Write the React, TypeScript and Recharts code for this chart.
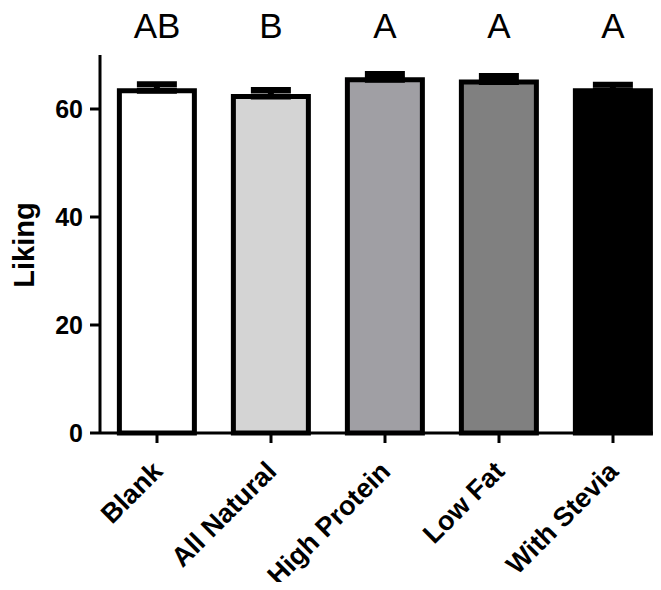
import React from 'react';
import { BarChart, Bar, XAxis, YAxis, ErrorBar, Cell, Label } from 'recharts';

const groups = ['Blank', 'All Natural', 'High Protein', 'Low Fat', 'With Stevia'];
const liking = [63.4, 62.3, 65.4, 65.0, 63.4];
const sem = [1.2, 1.2, 1.1, 1.1, 1.1];
const letters = ['AB', 'B', 'A', 'A', 'A'];
const fills = ['#ffffff', '#d4d4d4', '#a09fa4', '#808080', '#000000'];
const yTicks = [0, 20, 40, 60];

const data = groups.map((g, i) => ({ group: g, liking: liking[i], err: [0, sem[i]] }));

const FONT = '"Liberation Sans", Arial, sans-serif';

const LetterTick = (props: any) => {
  const { x, payload } = props;
  return (
    <text x={x} y={38} textAnchor="middle" fontSize={35} fontFamily={FONT} fill="#000">
      {letters[payload.index]}
    </text>
  );
};

const GroupTick = (props: any) => {
  const { x, y, payload } = props;
  return (
    <g transform={`translate(${x + 7},${y + 28})`}>
      <text x={0} y={0} textAnchor="end" transform="rotate(-45)" fontSize={27} fontWeight="bold" fontFamily={FONT} fill="#000">
        {payload.value}
      </text>
    </g>
  );
};

const YLabel = () => (
  <text x={34} y={245} transform="rotate(-90, 34, 245)" textAnchor="middle" fontSize={29} fontWeight="bold" fontFamily={FONT} fill="#000">
    Liking
  </text>
);

export default function App() {
  return (
    <div style={{ margin: -8, width: 661, height: 590, overflow: 'hidden' }}>
      <BarChart width={680} height={590} data={data} margin={{ top: 0, right: 10, left: 0, bottom: 0 }} barCategoryGap="17%">
        <XAxis xAxisId="top" orientation="top" dataKey="group" height={55} axisLine={false} tickLine={false} tick={<LetterTick />} />
        <XAxis
          xAxisId="bottom"
          dataKey="group"
          height={157}
          interval={0}
          stroke="#000"
          axisLine={{ strokeWidth: 3 }}
          tickLine={{ strokeWidth: 3 }}
          tickSize={10}
          tick={<GroupTick />}
        />
        <YAxis
          width={100}
          domain={[0, 70]}
          ticks={yTicks}
          stroke="#000"
          axisLine={{ strokeWidth: 3 }}
          tickLine={{ strokeWidth: 3 }}
          tickSize={10}
          tickMargin={7}
          tick={{ fontSize: 25, fontWeight: 'bold', fontFamily: FONT, fill: '#000' }}
        >
          <Label content={<YLabel />} />
        </YAxis>
        <Bar xAxisId="bottom" dataKey="liking" stroke="#000" strokeWidth={5} isAnimationActive={false}>
          {data.map((d, i) => (
            <Cell key={d.group} fill={fills[i]} />
          ))}
          <ErrorBar dataKey="err" width={20} strokeWidth={6} stroke="#000" isAnimationActive={false} />
        </Bar>
      </BarChart>
    </div>
  );
}
